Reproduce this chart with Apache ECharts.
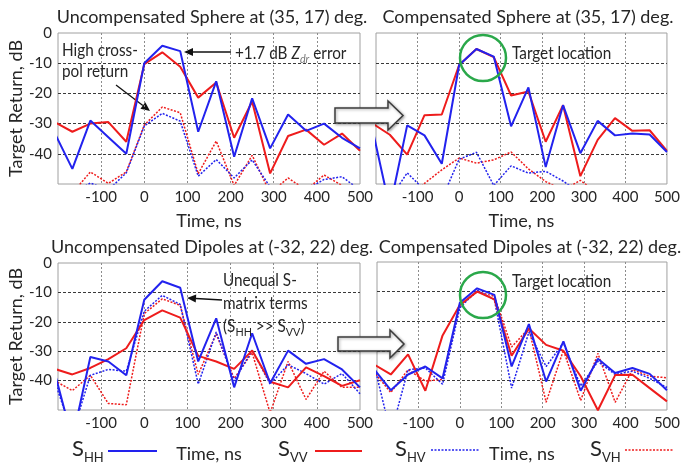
<!DOCTYPE html>
<html>
<head>
<meta charset="utf-8">
<script src="https://cdn.jsdelivr.net/npm/echarts@6/dist/echarts.min.js"></script>
<style>
  html, body { margin: 0; padding: 0; background: #fff; }
  #chart { width: 683px; height: 464px; }
</style>
</head>
<body>
<div id="chart"></div>
<script>
// sample times (ns)
var timeNs = [-208.3, -166.7, -125, -83.3, -41.7, 0, 41.7, 83.3, 125, 166.7, 208.3, 250, 291.7, 333.3, 375, 416.7, 458.3, 500]

// Uncompensated sphere
var sphUncHH = [-33, -45, -29, -34.5, -40, -10, -4.2, -6, -32.7, -16, -41, -21.6, -38.2, -27, -32.4, -30, -34.7, -38.2]
var sphUncVV = [-29.5, -32.7, -30, -29.5, -36, -10.3, -6.4, -11.2, -21.4, -16.4, -34.7, -22.7, -46.5, -34.1, -32, -37, -33.3, -39]
var sphUncHV = [-56, -53, -49.7, -52, -46.3, -30.8, -26.6, -29.2, -47.4, -41.9, -48, -42, -51, -53, -52, -48.5, -47.6, -52]
var sphUncVH = [-56, -53, -46, -49.8, -46, -30.5, -24.5, -26.4, -46.6, -35.8, -50.5, -40.5, -53, -48, -52, -47, -50.5, -53]

// Compensated sphere
var sphCmpHH = [-32, -58, -30.6, -33.9, -43.3, -10.6, -5.3, -7.8, -30.9, -18, -44.4, -23.9, -39.8, -29.1, -33.9, -33.3, -33.6, -39.4]
var sphCmpVV = [-30, -33.7, -40.3, -27.2, -27, -10.6, -5.3, -8, -20.7, -19.4, -36, -23.9, -47.4, -35.4, -28.2, -32.4, -32.2, -39]
var sphCmpHV = [-55, -55, -46.3, -52, -55, -41.8, -39.5, -50.5, -44, -46.4, -45.8, -49, -53, -56, -56, -56, -56, -56]
var sphCmpVH = [-56, -56, -56, -49.8, -45.3, -41.4, -43.1, -42, -39.4, -45, -49.2, -52, -48.8, -53, -56, -56, -56, -56]

// Uncompensated dipoles
var dipUncHH = [-37, -60, -32, -33.5, -38.2, -12.5, -6.2, -8.4, -33.5, -18.8, -42.3, -23.9, -40.9, -29.8, -34.3, -32.7, -36.2, -42.3]
var dipUncVV = [-36, -37.9, -35.7, -32.7, -29, -19.4, -16.1, -18.6, -31.6, -33.5, -36, -29.8, -40.4, -42.3, -35.5, -38.5, -41.8, -39.9]
var dipUncHV = [-40, -58, -38.2, -36.2, -36.8, -16.4, -11, -14.1, -41.2, -23.5, -40.1, -29.6, -41.2, -34.6, -37.6, -41.2, -37.6, -44.5]
var dipUncVH = [-40, -43.4, -38.2, -47.8, -48.2, -17.2, -12.2, -14.4, -37.9, -24.1, -39.3, -30.5, -51, -33.5, -46.4, -36.8, -42.3, -42.3]

// Compensated dipoles
var dipCmpHH = [-36, -43.3, -38, -35.3, -39.3, -13.8, -8.9, -11.1, -35.3, -21, -40.4, -26.8, -43.5, -32.7, -37.5, -35.8, -37.8, -43.3]
var dipCmpVV = [-34.5, -38, -31.2, -43.5, -24.8, -14.5, -10, -12.6, -31.7, -22.5, -28, -30, -38.6, -50.1, -38.2, -38.1, -42.6, -47.1]
var dipCmpHV = [-34, -58, -36.4, -35.8, -41.3, -15.5, -9.5, -12.7, -42.6, -23.7, -35.3, -27.3, -41.9, -33.6, -38, -36.9, -39.3, -42.4]
var dipCmpVH = [-37, -44.1, -36.4, -40.2, -39.7, -14.9, -10, -11.6, -28.7, -22.4, -47.4, -29.8, -46.8, -30.9, -47.4, -36.4, -38.6, -39.1]

var panelTitles = [
  'Uncompensated Sphere at (35, 17) deg.',
  'Compensated Sphere at (35, 17) deg.',
  'Uncompensated Dipoles at (-32, 22) deg.',
  'Compensated Dipoles at (-32, 22) deg.'
]
var panelData = [
  [sphUncHH, sphUncVV, sphUncHV, sphUncVH],
  [sphCmpHH, sphCmpVV, sphCmpHV, sphCmpVH],
  [dipUncHH, dipUncVV, dipUncHV, dipUncVH],
  [dipCmpHH, dipCmpVV, dipCmpHV, dipCmpVH]
]

var FONT = 'Lato, "Open Sans", sans-serif'
var BLUE = '#2222ee'
var RED = '#ee1c1c'
var TXT = '#262626'

var myChart = echarts.init(document.getElementById('chart'))

var grids = [
  { left: 58, top: 33, width: 302, height: 151 },
  { left: 376, top: 33, width: 302, height: 151 },
  { left: 58, top: 263, width: 302, height: 153 },
  { left: 377, top: 262, width: 301, height: 153 }
]

function pairs(arr) {
  return timeNs.map(function (t, i) { return [t, arr[i]] })
}

var xAxes = [], yAxes = [], series = []
grids.forEach(function (g, i) {
  g.show = true
  g.borderColor = '#a0a0a0'
  g.borderWidth = 1
  g.containLabel = false
  xAxes.push({
    gridIndex: i,
    type: 'value',
    min: -200,
    max: 500,
    interval: 100,
    name: 'Time, ns',
    nameLocation: 'middle',
    nameGap: i < 2 ? 28 : 35,
    nameTextStyle: { fontFamily: FONT, fontSize: 18, color: TXT },
    axisLine: { show: false },
    axisTick: { show: false },
    axisLabel: {
      margin: 6,
      fontFamily: FONT,
      fontSize: 15,
      color: TXT,
      formatter: function (v) { return v === -200 ? '' : String(v) }
    },
    splitLine: {
      show: true,
      showMinLine: false,
      showMaxLine: false,
      lineStyle: { color: '#8c8c8c', type: [2, 2], width: 1 }
    }
  })
  yAxes.push({
    gridIndex: i,
    type: 'value',
    min: -50,
    max: 0,
    interval: 10,
    name: i % 2 === 0 ? 'Target Return, dB' : '',
    nameLocation: 'middle',
    nameGap: 32,
    nameTextStyle: { fontFamily: FONT, fontSize: 18, color: TXT },
    axisLine: { show: false },
    axisTick: { show: false },
    axisLabel: {
      show: i % 2 === 0,
      margin: 6,
      fontFamily: FONT,
      fontSize: 15,
      color: TXT,
      formatter: function (v) { return v === -50 ? '' : String(v) }
    },
    splitLine: {
      show: true,
      showMinLine: false,
      showMaxLine: false,
      lineStyle: { color: '#3a3a3a', type: [3, 2], width: 1 }
    }
  })
  var d = panelData[i]
  // dotted cross-pol first, solid co-pol on top
  series.push({
    type: 'line', xAxisIndex: i, yAxisIndex: i, data: pairs(d[3]), symbol: 'none',
    lineStyle: { color: RED, width: 1.5, type: [2, 1.5] }
  })
  series.push({
    type: 'line', xAxisIndex: i, yAxisIndex: i, data: pairs(d[2]), symbol: 'none',
    lineStyle: { color: BLUE, width: 1.5, type: [2, 1.5] }
  })
  series.push({
    type: 'line', xAxisIndex: i, yAxisIndex: i, data: pairs(d[1]), symbol: 'none',
    lineStyle: { color: RED, width: 2 }
  })
  series.push({
    type: 'line', xAxisIndex: i, yAxisIndex: i, data: pairs(d[0]), symbol: 'none',
    lineStyle: { color: BLUE, width: 2 }
  })
})

// simple text helper
function txt(x, y, s, size, align, sx) {
  return {
    type: 'text', x: x, y: y, z: 100, scaleX: sx || 1,
    style: { text: s, fontFamily: FONT, fontSize: size, fill: TXT, align: align || 'left', verticalAlign: 'middle' }
  }
}

// thin arrow with filled head at (x2, y2)
function arrow(x1, y1, x2, y2) {
  var a = Math.atan2(y2 - y1, x2 - x1)
  var L = 9, W = 4
  var bx = x2 - L * Math.cos(a), by = y2 - L * Math.sin(a)
  return {
    type: 'group', z: 100,
    children: [
      { type: 'line', shape: { x1: x1, y1: y1, x2: bx, y2: by }, style: { stroke: '#111', lineWidth: 1.3 } },
      {
        type: 'polygon',
        shape: { points: [[x2, y2], [bx - W * Math.sin(a), by + W * Math.cos(a)], [bx + W * Math.sin(a), by - W * Math.cos(a)]] },
        style: { fill: '#111' }
      }
    ]
  }
}

function bigArrow(x0, xh, xt, yc, hs, hh) {
  return {
    type: 'polygon', z: 90,
    shape: { points: [[x0, yc - hs], [xh, yc - hs], [xh, yc - hh], [xt, yc], [xh, yc + hh], [xh, yc + hs], [x0, yc + hs]] },
    style: { fill: '#fff', stroke: '#3c3c3c', lineWidth: 1.5, shadowBlur: 3, shadowColor: 'rgba(0,0,0,0.35)', shadowOffsetX: 1, shadowOffsetY: 1 }
  }
}

function subLabel(x, y, main, sub) {
  return {
    type: 'text', x: x, y: y, z: 100,
    style: {
      text: '{s|' + main + '}{b|' + sub + '}',
      verticalAlign: 'middle',
      rich: {
        s: { fontFamily: FONT, fontSize: 22, fill: TXT, lineHeight: 26, verticalAlign: 'top' },
        b: { fontFamily: FONT, fontSize: 13, fill: TXT, lineHeight: 26, verticalAlign: 'bottom' }
      }
    }
  }
}

var AN = 17, ASX = 0.9

var graphics = [
  txt(212, 17, panelTitles[0], 18, 'center'),
  txt(528, 17, panelTitles[1], 18, 'center'),
  txt(212, 247, panelTitles[2], 18, 'center'),
  txt(530, 247, panelTitles[3], 18, 'center'),

  // annotations, top-left
  txt(62, 51, 'High cross-', AN, 'left', ASX),
  txt(62, 72, 'pol return', AN, 'left', ASX),
  arrow(116, 85, 150, 111),
  {
    type: 'text', x: 235, y: 54, z: 100, scaleX: ASX,
    style: {
      text: '{n|+1.7 dB }{z|Z}{d|dr}{n| error}',
      verticalAlign: 'middle',
      rich: {
        n: { fontFamily: FONT, fontSize: AN, fill: TXT, lineHeight: 22, verticalAlign: 'middle' },
        z: { fontFamily: FONT, fontSize: AN, fontStyle: 'italic', fill: TXT, lineHeight: 22, verticalAlign: 'middle' },
        d: { fontFamily: FONT, fontSize: 12, fontStyle: 'italic', fill: '#777', lineHeight: 22, verticalAlign: 'bottom' }
      }
    }
  },
  arrow(231, 52, 184, 52),

  // annotations, bottom-left
  txt(223, 281, 'Unequal S-', AN, 'left', ASX),
  txt(223, 304, 'matrix terms', AN, 'left', ASX),
  {
    type: 'text', x: 223, y: 327, z: 100, scaleX: ASX,
    style: {
      text: '{n|(S}{b|HH}{n| >> S}{b|VV}{n|)}',
      verticalAlign: 'middle',
      rich: {
        n: { fontFamily: FONT, fontSize: AN, fill: TXT, lineHeight: 22, verticalAlign: 'middle' },
        b: { fontFamily: FONT, fontSize: 12, fill: TXT, lineHeight: 22, verticalAlign: 'bottom' }
      }
    }
  },
  arrow(222, 300, 187, 298),

  // target locations
  { type: 'circle', z: 95, shape: { cx: 483, cy: 58, r: 23 }, style: { fill: 'none', stroke: '#2aa84a', lineWidth: 2.5 } },
  txt(512, 54, 'Target location', AN, 'left', ASX),
  { type: 'circle', z: 95, shape: { cx: 483, cy: 295, r: 23 }, style: { fill: 'none', stroke: '#2aa84a', lineWidth: 2.5 } },
  txt(512, 282, 'Target location', AN, 'left', ASX),

  // big arrows between panels
  bigArrow(335, 388, 403, 115.5, 7.5, 14.5),
  bigArrow(338, 390, 404, 344, 7, 14),

  // legend row
  subLabel(72, 451, 'S', 'HH'),
  { type: 'line', z: 100, shape: { x1: 108, y1: 451, x2: 157, y2: 451 }, style: { stroke: BLUE, lineWidth: 2 } },
  subLabel(278, 451, 'S', 'VV'),
  { type: 'line', z: 100, shape: { x1: 315, y1: 451, x2: 362, y2: 451 }, style: { stroke: RED, lineWidth: 2 } },
  subLabel(395, 451, 'S', 'HV'),
  { type: 'line', z: 100, shape: { x1: 431, y1: 450, x2: 480, y2: 450 }, style: { stroke: BLUE, lineWidth: 1.5, lineDash: [2, 1.5] } },
  subLabel(590, 451, 'S', 'VH'),
  { type: 'line', z: 100, shape: { x1: 625, y1: 450, x2: 673, y2: 450 }, style: { stroke: RED, lineWidth: 1.5, lineDash: [2, 1.5] } }
]

myChart.setOption({
  backgroundColor: '#fff',
  animation: false,
  grid: grids,
  xAxis: xAxes,
  yAxis: yAxes,
  series: series,
  graphic: graphics
})
</script>
</body>
</html>
